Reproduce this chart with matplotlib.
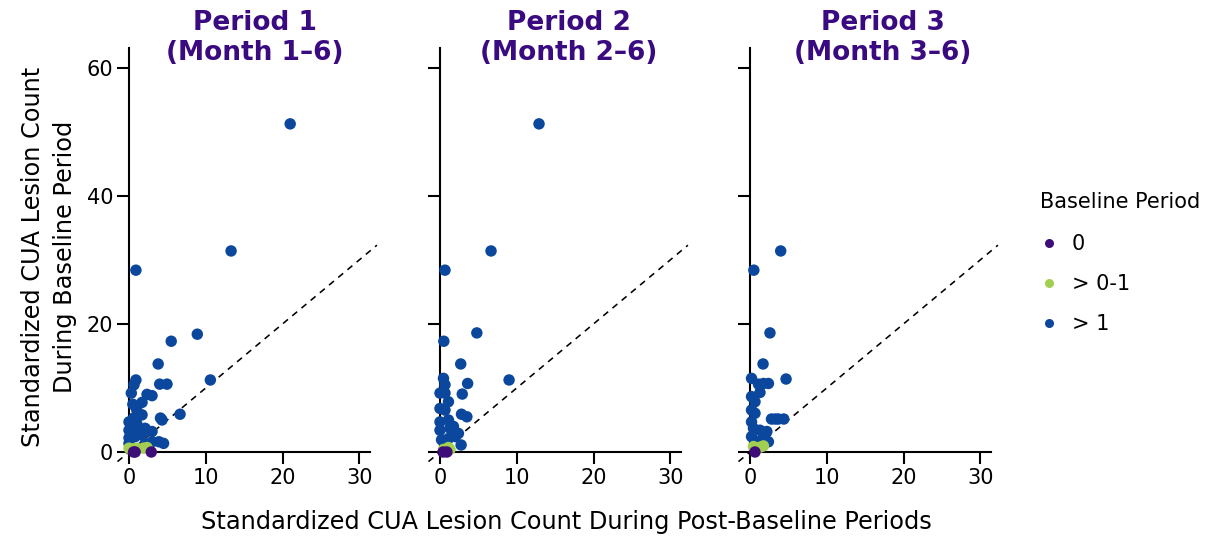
import matplotlib
matplotlib.use("Agg")
import matplotlib.pyplot as plt
from matplotlib.lines import Line2D

# ---------------- data ----------------
panel_titles = ["Period 1\n(Month 1\u20136)", "Period 2\n(Month 2\u20136)", "Period 3\n(Month 3\u20136)"]
group_labels = ["0", "> 0-1", "> 1"]
group_colors = ["#3F0D78", "#A2CF52", "#0B479C"]

# Panel 1
p1_zero_x = [0.6, 0.8, 2.9]
p1_zero_y = [0.0, 0.0, 0.0]
p1_low_x = [0.0, 0.4, 1.0, 1.9, 2.35]
p1_low_y = [0.6, 0.5, 0.6, 0.6, 0.7]
p1_high_x = [21.0, 13.3, 0.9, 8.9, 10.6, 5.5, 3.8, 6.65, 4.0, 4.95, 0.9, 0.65, 0.3, 2.35, 3.0,
             0.5, 1.7, 1.0, 1.7, 4.1, 4.3, 0.0, 0.6, 1.0, 0.0, 0.4, 1.25, 2.1, 3.0, 0.0, 0.8,
             1.7, 3.0, 3.9, 4.5, 0.0, 2.1]
p1_high_y = [51.25, 31.4, 28.4, 18.4, 11.25, 17.3, 13.75, 5.9, 10.6, 10.6, 11.25, 10.5, 9.2, 9.0, 8.8,
             7.45, 7.75, 6.6, 5.8, 5.3, 5.0, 4.7, 5.3, 4.5, 3.4, 3.2, 3.7, 3.7, 3.2, 2.2, 2.4,
             2.7, 1.6, 1.6, 1.35, 1.35, 1.35]

# Panel 2
p2_zero_x = [0.4, 0.9]
p2_zero_y = [0.0, 0.0]
p2_low_x = [0.45, 1.1, 1.3]
p2_low_y = [0.4, 0.7, 0.4]
p2_high_x = [12.9, 6.65, 0.65, 4.8, 9.0, 0.5, 2.7, 0.45, 0.65, 3.6, 0.0, 0.65, 2.9, 1.1, 0.0,
             0.65, 2.8, 3.5, 0.0, 1.1, 0.0, 1.3, 1.75, 2.4, 0.2, 1.1, 2.75, 2.0]
p2_high_y = [51.25, 31.4, 28.4, 18.6, 11.25, 17.3, 13.75, 11.5, 10.5, 10.7, 9.2, 9.2, 9.05, 7.85, 6.8,
             6.55, 5.9, 5.5, 4.7, 5.0, 3.4, 3.7, 4.0, 2.9, 1.9, 2.1, 1.1, 2.4]

# Panel 3
p3_zero_x = [0.65]
p3_zero_y = [0.0]
p3_low_x = [0.45, 1.3, 1.75]
p3_low_y = [0.85, 0.75, 0.95]
p3_high_x = [0.5, 4.0, 2.6, 4.7, 1.7, 3.3, 4.4, 0.2, 1.1, 1.75, 2.4, 1.3, 0.2, 0.65, 0.2,
             0.65, 2.8, 3.7, 0.2, 0.45, 1.3, 2.2, 0.2, 1.5, 2.4, 0.9]
p3_high_y = [28.4, 31.4, 18.6, 11.4, 13.75, 5.15, 5.15, 11.5, 10.6, 10.7, 10.7, 9.3, 8.65, 7.85, 6.55,
             6.05, 5.15, 5.15, 4.7, 3.7, 3.4, 3.2, 2.4, 1.9, 1.6, 1.35]

panels = [
    [(p1_zero_x, p1_zero_y), (p1_low_x, p1_low_y), (p1_high_x, p1_high_y)],
    [(p2_zero_x, p2_zero_y), (p2_low_x, p2_low_y), (p2_high_x, p2_high_y)],
    [(p3_zero_x, p3_zero_y), (p3_low_x, p3_low_y), (p3_high_x, p3_high_y)],
]

x_ticks = [0, 10, 20, 30]
y_ticks = [0, 20, 40, 60]

# ---------------- figure ----------------
W, H = 1205, 536
fig = plt.figure(figsize=(W / 100, H / 100), dpi=100)
plt.rcParams['font.family'] = ['DejaVu Sans']

title_color = "#3A0A80"
left_px = [129, 440, 750]
title_cx = [255, 569, 883]
pw = 241
bottom_px = 452
top_px = 48

for i, groups in enumerate(panels):
    ax = fig.add_axes([left_px[i] / W, 1 - bottom_px / H, pw / W, (bottom_px - top_px) / H])
    ax.set_xlim(0, 31.4)
    ax.set_ylim(0, 63.1)
    ax.plot([-1.5, 32.3], [-1.5, 32.3], ls=(0, (4, 3.5)), color="black", lw=1.15,
            clip_on=False, zorder=1)
    for (gx, gy), col in zip(groups[::-1], group_colors[::-1]):
        ax.scatter(gx, gy, s=68, color=col, edgecolors="none", clip_on=False, zorder=3)
    for s in ["top", "right"]:
        ax.spines[s].set_visible(False)
    for s in ["left", "bottom"]:
        ax.spines[s].set_linewidth(1.5)
        ax.spines[s].set_zorder(2)
    ax.set_xticks(x_ticks)
    ax.set_yticks(y_ticks)
    ax.tick_params(axis="both", length=8.5, width=1.5, labelsize=15, pad=3)
    if i > 0:
        ax.set_yticklabels([])
    ax.set_facecolor("none")
    fig.text(title_cx[i] / W, 1 - 38 / H, panel_titles[i], ha="center", va="center",
             fontsize=19, fontweight="bold", color=title_color, linespacing=1.15)

fig.text(566 / W, 1 - 522 / H, "Standardized CUA Lesion Count During Post-Baseline Periods",
         ha="center", va="center", fontsize=17.3)
fig.text(49 / W, 1 - 257 / H, "Standardized CUA Lesion Count\nDuring Baseline Period",
         ha="center", va="center", rotation=90, fontsize=17.3, linespacing=1.45)

# legend
fig.text(1040 / W, 1 - 202 / H, "Baseline Period", ha="left", va="center", fontsize=15)
handles = [Line2D([0], [0], marker="o", ls="none", markersize=6.5, markerfacecolor=c,
                  markeredgecolor="none") for c in group_colors]
fig.legend(handles, group_labels, loc="upper left", bbox_to_anchor=(1030 / W, 1 - 226 / H),
           frameon=False, fontsize=15, handletextpad=0.6, labelspacing=0.95,
           borderaxespad=0, handlelength=1.0)

fig.savefig("out.png", dpi=100)
